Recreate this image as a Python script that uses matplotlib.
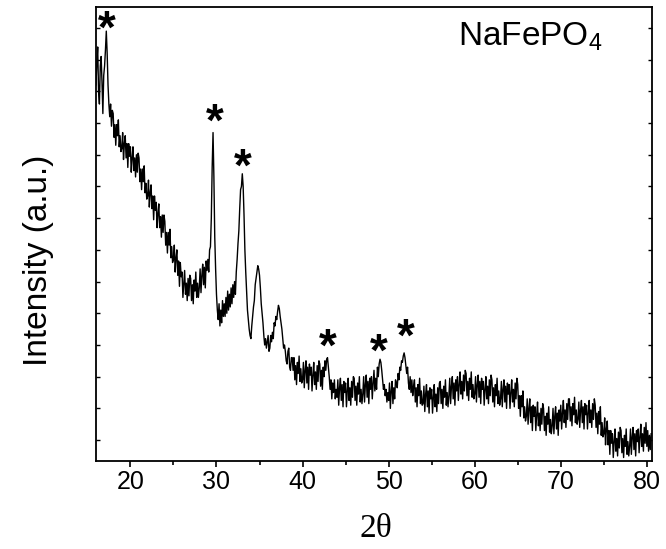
import numpy as np
import matplotlib.pyplot as plt
from matplotlib.ticker import MultipleLocator

plt.rcParams['font.family'] = 'Liberation Sans'
plt.rcParams['mathtext.fontset'] = 'custom'
plt.rcParams['mathtext.rm'] = 'Liberation Sans'

# XRD scan: start angle and step (degrees 2-theta)
start_2theta = 16.0
step_2theta = 0.1

# Intensity (arbitrary units), 10 points per degree
intensity = [
    11.2, 11.9, 12.4, 11.0, 10.6, 11.8, 12.1, 11.3, 10.3, 11.5,        # 16
    11.8, 12.3, 12.9, 12.2, 11.2, 10.6, 10.2, 10.6, 9.9, 10.4,         # 17
    10.3, 9.55, 9.95, 9.3, 9.95, 9.6, 10.1, 9.25, 9.6, 9.1,            # 18
    9.2, 9.7, 8.85, 9.35, 9.6, 8.9, 9.35, 8.6, 9.35, 8.95,             # 19
    9.25, 8.45, 8.9, 9.25, 8.5, 8.9, 8.3, 9.0, 8.45, 9.05,             # 20
    8.9, 8.15, 8.55, 7.9, 8.55, 8.15, 8.65, 7.8, 8.1, 7.6,             # 21
    7.7, 8.2, 7.35, 7.8, 8.05, 7.3, 7.7, 6.95, 7.7, 7.25,              # 22
    7.5, 6.7, 7.15, 7.45, 6.7, 7.05, 6.4, 7.1, 6.55, 7.1,              # 23
    6.9, 6.15, 6.55, 5.9, 6.55, 6.15, 6.65, 5.75, 6.1, 5.6,            # 24
    5.7, 6.15, 5.3, 5.75, 6.0, 5.2, 5.65, 4.85, 5.6, 5.15,             # 25
    5.3, 4.5, 4.95, 5.35, 4.6, 4.95, 4.4, 5.1, 4.55, 5.2,              # 26
    5.1, 4.4, 4.9, 4.3, 5.05, 4.7, 5.3, 4.5, 4.95, 4.5,                # 27
    4.8, 5.4, 4.65, 5.2, 5.55, 4.9, 5.45, 4.8, 5.65, 5.35,             # 28
    5.7, 5.3, 6.0, 6.1, 7.0, 8.6, 9.7, 8.3, 6.4, 5.4,                  # 29
    4.6, 4.1, 3.8, 4.3, 3.6, 4.1, 3.7, 4.4, 3.9, 4.3,                  # 30
    3.9, 4.5, 4.0, 4.7, 4.1, 4.6, 4.2, 4.8, 4.3, 4.9,                  # 31
    4.5, 5.0, 4.6, 5.3, 5.7, 6.2, 6.6, 7.3, 7.9, 8.0,                  # 32
    8.4, 8.0, 7.1, 6.0, 5.3, 4.7, 4.1, 3.8, 3.5, 3.3,                  # 33
    3.2, 3.6, 3.9, 4.2, 4.4, 4.9, 5.1, 5.3, 5.5, 5.4,                  # 34
    5.2, 4.8, 4.3, 4.0, 3.7, 3.3, 3.0, 3.2, 2.9, 3.1,                  # 35
    3.3, 2.8, 2.9, 3.3, 3.1, 3.4, 3.2, 3.7, 3.6, 3.9,                  # 36
    3.8, 4.05, 4.25, 4.15, 3.9, 3.7, 3.5, 3.2, 2.9, 3.0,               # 37
    2.8, 2.5, 2.4, 2.8, 2.9, 2.3, 2.2, 2.6, 2.6, 2.2,                  # 38
    2.6, 1.9, 2.35, 1.75, 2.45, 2.1, 2.65, 1.85, 2.25, 1.8,            # 39
    1.9, 2.45, 1.65, 2.2, 2.5, 1.8, 2.3, 1.6, 2.4, 2.05,               # 40
    2.3, 1.55, 2.05, 2.45, 1.75, 2.15, 1.6, 2.35, 1.85, 2.5,           # 41
    2.4, 1.7, 2.2, 1.6, 2.3, 2.0, 2.5, 2.2, 2.55, 2.6,                 # 42
    2.3, 2.0, 1.6, 1.9, 1.3, 1.8, 1.5, 1.9, 1.3, 1.6,                  # 43
    1.35, 1.9, 1.1, 1.65, 1.95, 1.25, 1.75, 1.05, 1.85, 1.5,           # 44
    1.8, 1.05, 1.55, 1.95, 1.25, 1.65, 1.1, 1.85, 1.35, 2.0,           # 45
    1.95, 1.25, 1.7, 1.1, 1.8, 1.45, 2.0, 1.2, 1.6, 1.15,              # 46
    1.45, 2.0, 1.2, 1.75, 2.05, 1.35, 1.85, 1.15, 1.95, 1.6,           # 47
    2.0, 1.3, 1.8, 2.2, 1.55, 1.95, 1.6, 2.3, 2.0, 2.4,                # 48
    2.55, 2.45, 2.2, 1.9, 1.6, 1.75, 1.4, 1.6, 1.2, 1.5,               # 49
    1.25, 1.8, 1.0, 1.55, 1.85, 1.15, 1.65, 1.3, 1.9, 1.8,             # 50
    1.65, 2.1, 1.9, 2.3, 2.2, 2.5, 2.45, 2.65, 2.75, 2.6,              # 51
    2.35, 2.1, 2.3, 1.8, 1.6, 2.0, 1.5, 1.9, 1.4, 1.7,                 # 52
    1.9, 1.2, 1.65, 1.05, 1.75, 1.4, 1.95, 1.15, 1.55, 1.1,            # 53
    1.15, 1.7, 0.9, 1.45, 1.75, 1.05, 1.55, 0.85, 1.65, 1.3,           # 54
    1.6, 0.85, 1.35, 1.75, 1.05, 1.45, 0.9, 1.65, 1.15, 1.8,           # 55
    1.85, 1.15, 1.6, 1.0, 1.7, 1.35, 1.9, 1.1, 1.5, 1.05,              # 56
    1.4, 1.95, 1.15, 1.7, 2.0, 1.3, 1.8, 1.1, 1.9, 1.55,               # 57
    2.0, 1.25, 1.75, 2.15, 1.45, 1.85, 1.3, 2.05, 1.55, 2.2,           # 58
    2.1, 1.4, 1.85, 1.25, 1.95, 1.6, 2.15, 1.35, 1.75, 1.3,            # 59
    1.45, 2.0, 1.2, 1.75, 2.05, 1.35, 1.85, 1.15, 1.95, 1.6,           # 60
    1.85, 1.1, 1.6, 2.0, 1.3, 1.7, 1.15, 1.9, 1.4, 2.05,               # 61
    1.9, 1.2, 1.65, 1.05, 1.75, 1.4, 1.95, 1.15, 1.55, 1.1,            # 62
    1.3, 1.85, 1.05, 1.6, 1.9, 1.2, 1.7, 1.0, 1.8, 1.45,               # 63
    1.75, 1.0, 1.5, 1.9, 1.2, 1.6, 1.05, 1.8, 1.3, 1.95,               # 64
    1.75, 1.0, 1.4, 0.75, 1.4, 1.05, 1.55, 0.7, 1.05, 0.6,             # 65
    0.75, 1.3, 0.5, 1.0, 1.3, 0.55, 1.05, 0.3, 1.1, 0.75,              # 66
    1.05, 0.3, 0.8, 1.2, 0.45, 0.85, 0.3, 1.0, 0.5, 1.15,              # 67
    1.0, 0.3, 0.75, 0.15, 0.85, 0.5, 1.05, 0.25, 0.65, 0.2,            # 68
    0.45, 1.0, 0.2, 0.75, 1.05, 0.35, 0.85, 0.15, 0.95, 0.6,           # 69
    1.1, 0.35, 0.85, 1.25, 0.55, 0.95, 0.4, 1.15, 0.65, 1.3,           # 70
    1.3, 0.6, 1.05, 0.45, 1.15, 0.8, 1.35, 0.55, 0.95, 0.5,            # 71
    0.65, 1.2, 0.4, 0.95, 1.25, 0.55, 1.05, 0.35, 1.15, 0.8,           # 72
    1.1, 0.35, 0.85, 1.25, 0.55, 0.95, 0.4, 1.15, 0.65, 1.3,           # 73
    1.1, 0.4, 0.85, 0.2, 0.9, 0.5, 1.05, 0.15, 0.55, 0.1,              # 74
    0.2, 0.7, -0.15, 0.35, 0.6, -0.15, 0.3, -0.45, 0.3, -0.1,          # 75
    0.2, -0.55, -0.05, 0.35, -0.35, 0.05, -0.5, 0.25, -0.25, 0.4,      # 76
    0.3, -0.4, 0.05, -0.55, 0.15, -0.2, 0.35, -0.45, -0.05, -0.5,      # 77
    -0.2, 0.35, -0.45, 0.1, 0.4, -0.3, 0.2, -0.5, 0.3, -0.05,          # 78
    0.35, -0.4, 0.1, 0.5, -0.2, 0.2, -0.35, 0.4, -0.1, 0.55,           # 79
    -0.2, 0.3, -0.35, 0.15, -0.3, 0.2,                                 # 80
]
two_theta = np.round(start_2theta + step_2theta * np.arange(len(intensity)), 1)

# asterisks marking the NaFePO4 reflections (centre of each asterisk)
star_x = [17.3, 29.77, 33.0, 42.9, 48.84, 51.98]
star_y = [13.19, 10.25, 8.83, 3.15, 3.0, 3.47]

fig = plt.figure(figsize=(6.66, 5.49), dpi=100)
ax = fig.add_axes([0.1441, 0.1603, 0.8349, 0.8269])

ax.plot(two_theta, intensity, color='black', linewidth=1.0)

for sx, sy in zip(star_x, star_y):
    ax.annotate('*', xy=(sx, sy), xytext=(0, -15), textcoords='offset points',
                ha='center', va='baseline', fontsize=33, fontweight='bold')

ax.text(0.651, 0.916, r'NaFePO$_\mathregular{4}$', transform=ax.transAxes,
        ha='left', va='baseline', fontsize=24)

ax.set_xlim(16, 80.6)
ax.set_ylim(-0.66, 13.66)
ax.xaxis.set_major_locator(MultipleLocator(10))
ax.xaxis.set_minor_locator(MultipleLocator(5))
ax.yaxis.set_major_locator(MultipleLocator(1))
ax.set_yticklabels([])

ax.tick_params(axis='x', which='major', direction='out', length=4.5, width=1.2,
               labelsize=18, pad=2)
ax.tick_params(axis='x', which='minor', direction='out', length=3, width=1.2)
ax.tick_params(axis='y', which='major', direction='in', length=3, width=1.0,
               right=True)
for s in ax.spines.values():
    s.set_linewidth(1.3)

ax.set_ylabel('Intensity (a.u.)', fontsize=24)
ax.yaxis.set_label_coords(-0.104, 0.443)
ax.set_xlabel('2θ', fontsize=24, family='Liberation Serif')
ax.xaxis.set_label_coords(0.504, -0.15)
ax.xaxis.label.set_va('center')
ax.yaxis.label.set_va('center')

fig.savefig('out.png', dpi=100)
